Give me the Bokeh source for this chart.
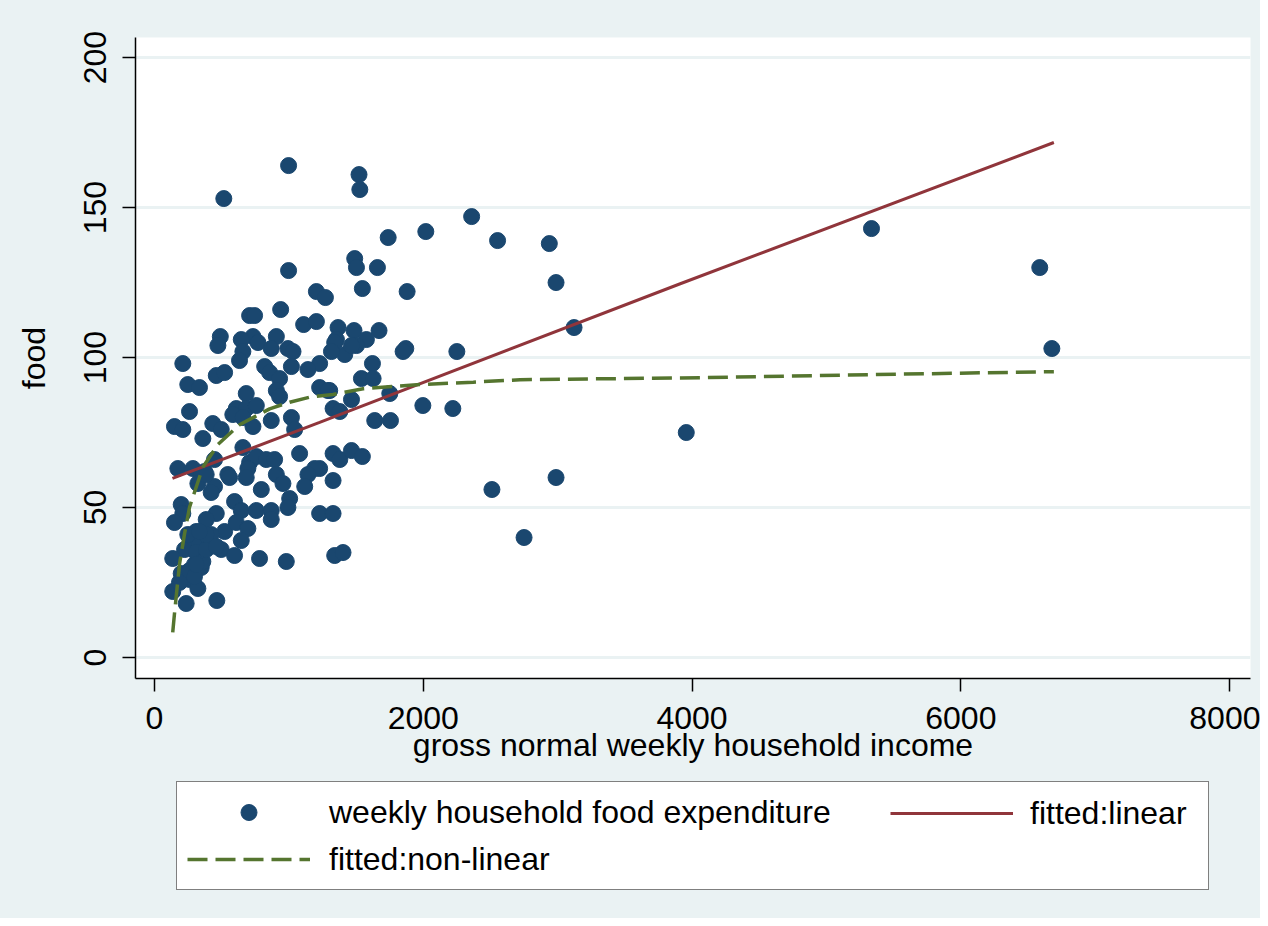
from bokeh.plotting import figure
from bokeh.models import Legend, LegendItem, FixedTicker, Range1d
from bokeh.layouts import column
from bokeh.embed import file_html
from bokeh.resources import INLINE

# weekly household income (x) and weekly household food expenditure (y)
income = [516, 998, 1522, 1528, 1739, 2360, 2019, 2553, 2938, 5335,
          6587, 6677, 3957, 2988, 2511, 2750, 2250, 1997, 2220, 2988,
          3122, 1880, 998, 1490, 1503, 1659, 1547, 1205, 1272, 708,
          745, 939, 1110, 1205, 1366, 1485, 1671, 490, 907, 733,
          646, 1354, 1577, 1870, 1850, 1639, 1756, 1751, 1622, 1540,
          1627, 1341, 1416, 1503, 1229, 1229, 1304, 1466, 1329, 1379,
          1329, 1379, 1466, 1547, 1229, 1329, 1229, 1329, 1341, 1403,
          472, 658, 770, 869, 993, 1031, 1317, 211, 460, 522,
          633, 820, 857, 931, 1019, 1142, 248, 335, 683, 907,
          931, 1291, 261, 609, 683, 758, 583, 733, 658, 869,
          1019, 1043, 149, 211, 434, 497, 360, 658, 1080, 708,
          758, 832, 894, 447, 174, 286, 695, 683, 907, 1192,
          1142, 546, 373, 348, 323, 447, 559, 795, 956, 1006,
          993, 1118, 596, 646, 758, 869, 869, 199, 211, 149,
          460, 385, 311, 273, 522, 609, 695, 646, 224, 373,
          497, 596, 136, 782, 981, 298, 348, 199, 261, 323,
          136, 236, 464, 186, 285, 335, 410, 311, 360, 261,
          385, 298, 422, 460, 385, 422, 248, 385, 335, 311,
          1466]
food = [153, 164, 161, 156, 140, 147, 142, 139, 138, 143,
        130, 103, 75, 60, 56, 40, 102, 84, 83, 125,
        110, 122, 129, 133, 130, 130, 123, 122, 120, 114,
        114, 116, 111, 112, 110, 109, 109, 107, 107, 107,
        106, 106, 106, 103, 102, 79, 79, 88, 98, 93,
        93, 105, 101, 104, 98, 90, 89, 86, 83, 82,
        68, 66, 69, 67, 63, 59, 48, 48, 34, 35,
        104, 102, 105, 103, 103, 102, 102, 98, 94, 95,
        99, 97, 95, 93, 97, 96, 91, 90, 88, 89,
        87, 89, 82, 83, 83, 84, 81, 77, 80, 79,
        80, 76, 77, 76, 78, 76, 73, 70, 68, 65,
        67, 66, 66, 66, 63, 63, 63, 60, 61, 63,
        61, 61, 62, 61, 58, 57, 60, 56, 58, 53,
        50, 57, 52, 49, 49, 49, 46, 51, 48, 45,
        48, 46, 42, 40, 42, 45, 43, 39, 36, 37,
        36, 34, 33, 33, 32, 31, 30, 28, 26, 23,
        22, 18, 19, 25, 40, 38, 39, 35, 32, 29,
        36, 27, 41, 37, 61, 55, 41, 41, 42, 31,
        104]

# fitted lines
lin_x = [134, 1229, 3912, 6692]
lin_y = [59.7, 78.4, 124.6, 171.7]
nl_x = [136, 149, 186, 224, 261, 335, 360, 472, 633, 857,
        1006, 1155, 1329, 1552, 1975, 2372, 2720, 4061, 5328, 6692]
nl_y = [8.4, 14.6, 31.0, 41.3, 50.1, 60.1, 63.4, 71.0, 77.6, 82.9,
        85.1, 86.8, 87.7, 89.6, 91.0, 91.8, 92.6, 93.3, 94.3, 95.3]

x_ticks = [0, 2000, 4000, 6000, 8000]
y_ticks = [0, 50, 100, 150, 200]

series_names = ["weekly household food expenditure", "fitted:linear", "fitted:non-linear"]

FONT = "Liberation Sans"
BG = "#eaf2f3"
NAVY = "#1a476f"
MAROON = "#90353b"
GREEN = "#55752f"

W = 1260
H1 = 780
H2 = 138

p = figure(width=W, height=H1, output_backend="svg", toolbar_location=None,
           x_range=Range1d(-141, 8155), y_range=Range1d(-7, 206.7),
           min_border_left=135, min_border_right=10, min_border_top=37,
           min_border_bottom=102)
p.background_fill_color = "white"
p.border_fill_color = BG
p.outline_line_color = None
p.xgrid.visible = False
p.ygrid.grid_line_color = BG
p.ygrid.grid_line_width = 3
p.ygrid.ticker = FixedTicker(ticks=y_ticks)

p.scatter(income, food, size=16, fill_color=NAVY, line_color=NAVY, line_width=1)
p.line(lin_x, lin_y, line_color=MAROON, line_width=3)
p.line(nl_x, nl_y, line_color=GREEN, line_width=3.5, line_dash="20 8")

p.xaxis.ticker = FixedTicker(ticks=x_ticks)
p.yaxis.ticker = FixedTicker(ticks=y_ticks)
p.xaxis.axis_label = "gross normal weekly household income"
p.yaxis.axis_label = "food"
for ax in (p.xaxis[0], p.yaxis[0]):
    ax.major_tick_out = 13
    ax.major_tick_in = 0
    ax.minor_tick_out = 0
    ax.minor_tick_in = 0
    ax.axis_line_color = "black"
    ax.axis_line_width = 1.5
    ax.major_tick_line_color = "black"
    ax.major_tick_line_width = 1.5
    ax.major_label_text_font = FONT
    ax.major_label_text_font_size = "32px"
    ax.major_label_text_color = "black"
    ax.axis_label_text_font = FONT
    ax.axis_label_text_font_size = "32px"
    ax.axis_label_text_font_style = "normal"
    ax.axis_label_text_color = "black"
p.yaxis.major_label_orientation = "vertical"
p.xaxis.major_label_standoff = 15
p.xaxis.axis_label_standoff = -5
p.yaxis.major_label_standoff = 16
p.yaxis.axis_label_standoff = 30

# legend strip below the chart (its frame is aligned with the chart's frame)
q = figure(width=W, height=H2, output_backend="svg", toolbar_location=None,
           x_range=Range1d(0, 1), y_range=Range1d(0, 1),
           x_axis_type=None, y_axis_type=None,
           min_border_left=135, min_border_right=10, min_border_top=0, min_border_bottom=0)
q.background_fill_color = None
q.border_fill_color = BG
q.outline_line_color = None
q.grid.visible = False
# key glyphs only (kept outside the visible range)
k_sc = q.scatter([-5], [-5], size=16, fill_color=NAVY, line_color=NAVY, line_width=1)
k_ln = q.line([-5, -4], [-5, -5], line_color=MAROON, line_width=3)
k_nl = q.line([-5, -4], [-5, -5], line_color=GREEN, line_width=3.5, line_dash="20 8")

common = dict(glyph_width=123, glyph_height=40, label_height=40, margin=0,
              label_text_font=FONT, label_text_font_size="32px",
              label_text_color="black")
leg1 = Legend(items=[LegendItem(label=series_names[0], renderers=[k_sc]),
                     LegendItem(label=series_names[2], renderers=[k_nl])],
              location=(41, 28), orientation="vertical", label_width=869,
              label_standoff=19, spacing=7, padding=10,
              border_line_color="black", border_line_width=1,
              background_fill_color="white", background_fill_alpha=1, **common)
leg2 = Legend(items=[LegendItem(label=series_names[1], renderers=[k_ln])],
              location=(755, 85), orientation="vertical", label_standoff=17,
              padding=0, border_line_color=None, background_fill_alpha=0, **common)
q.add_layout(leg1, "center")
q.add_layout(leg2, "center")

layout = column(p, q, spacing=0, styles={"background-color": BG})
open("out.html", "w").write(file_html(layout, INLINE))
